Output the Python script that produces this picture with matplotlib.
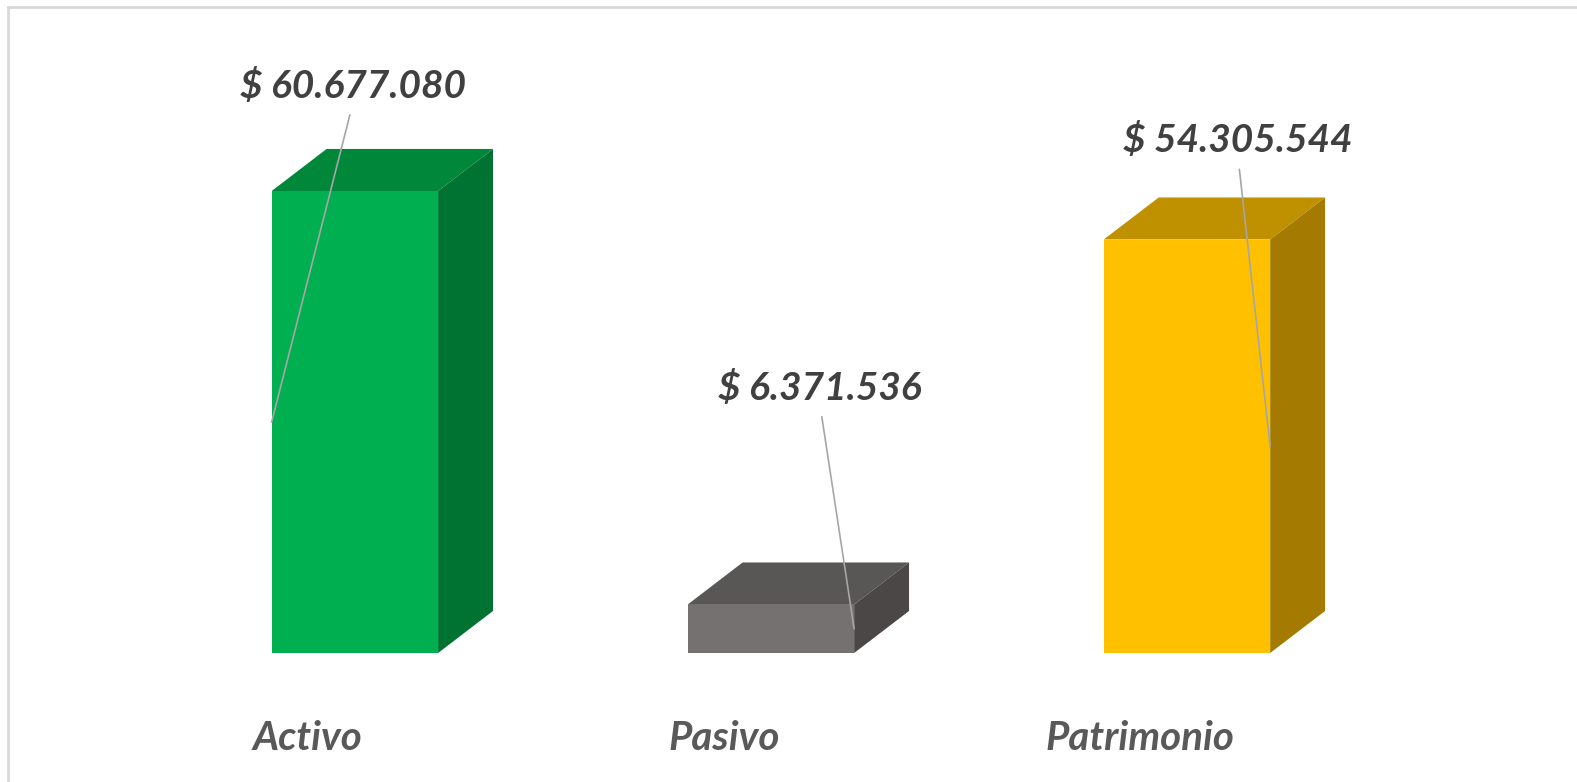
import matplotlib.pyplot as plt
from matplotlib.patches import Polygon
from matplotlib.lines import Line2D

# data
categories = ['Activo', 'Pasivo', 'Patrimonio']
values = [60677080, 6371536, 54305544]
value_labels = ['$ 60.677.080', '$ 6.371.536', '$ 54.305.544']

# colours per bar: front, top, side
front_colors = ['#00b050', '#767171', '#ffc000']
top_colors = ['#00873a', '#595656', '#bf9000']
side_colors = ['#007232', '#4b4747', '#a47b00']

plt.rcParams['font.family'] = ['Lato', 'DejaVu Sans']

fig = plt.figure(figsize=(15.77, 7.82), dpi=100)
ax = fig.add_axes([0, 0, 1, 1])
ax.set_xlim(-0.853, 2.9375)
ax.set_ylim(-16.94e6, 85.76e6)
ax.axis('off')

barWidth = 0.4
depth_x = 0.132      # 3d depth in x units
depth_y = 5.52e6     # 3d depth in value units

bars = ax.bar(range(len(values)), values, width=barWidth, color=front_colors,
              edgecolor='none', zorder=3)

for i, b in enumerate(bars):
    x0 = b.get_x()
    x1 = x0 + b.get_width()
    h = b.get_height()
    top = Polygon([(x0, h), (x1, h), (x1 + depth_x, h + depth_y),
                   (x0 + depth_x, h + depth_y)], closed=True,
                  facecolor=top_colors[i], edgecolor='none', zorder=2)
    side = Polygon([(x1, 0), (x1 + depth_x, depth_y), (x1 + depth_x, h + depth_y),
                    (x1, h)], closed=True,
                   facecolor=side_colors[i], edgecolor='none', zorder=2)
    ax.add_patch(top)
    ax.add_patch(side)

# value labels with leader lines
anchor_side = [0, 1, 1]   # 0 = left edge, 1 = right edge of front face
offsets = [(81, 336), (-34, 241), (-32, 306)]
for i, b in enumerate(bars):
    ax_x = b.get_x() + anchor_side[i] * b.get_width()
    ax.annotate(value_labels[i], xy=(ax_x, b.get_height() / 2),
                xytext=offsets[i], textcoords='offset pixels',
                ha='center', va='center', fontsize=28, fontweight='bold',
                fontstyle='italic', color='#404040', zorder=5,
                arrowprops=dict(arrowstyle='-', color='#a6a6a6', lw=1.2,
                                relpos=(0.5, 0), shrinkA=6, shrinkB=0))

# category labels (sit a bit left of the bars, like the 3d axis)
trans = ax.get_xaxis_transform()
for i, cat in enumerate(categories):
    ax.text(i - 0.113, 0.056, cat, transform=trans,
            ha='center', va='center', fontsize=29, fontweight='bold',
            fontstyle='italic', color='#595959')

# light frame on left and top
fig.add_artist(Line2D([0.0051, 0.0051], [0, 0.991], transform=fig.transFigure,
                      color='#d9d9d9', lw=2))
fig.add_artist(Line2D([0.0051, 1], [0.991, 0.991], transform=fig.transFigure,
                      color='#d9d9d9', lw=2))

fig.savefig('out.png', dpi=100)
